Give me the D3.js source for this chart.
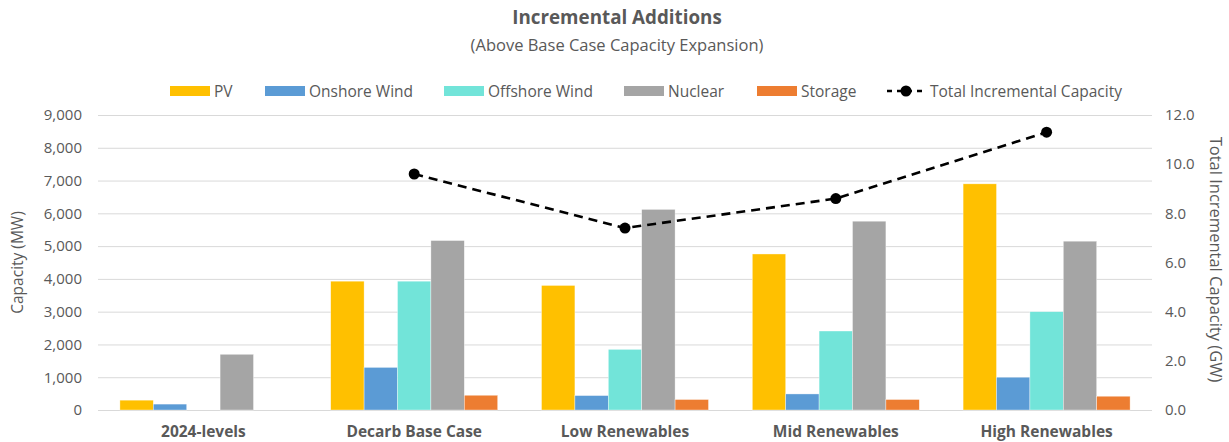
<!DOCTYPE html>
<html>
<head>
<meta charset="utf-8">
<script src="https://cdn.jsdelivr.net/npm/d3@7"></script>
<style>
  html, body { margin: 0; padding: 0; background: #fff; }
  svg { display: block; font-family: "Open Sans", "Noto Sans", sans-serif; }
</style>
</head>
<body>
<svg id="chart" width="1229" height="442"></svg>
<script>
// Scenarios on the x axis
const categories = ["2024-levels", "Decarb Base Case", "Low Renewables", "Mid Renewables", "High Renewables"];

// Capacity added per technology (MW)
const pv       = [300, 3930, 3800, 4760, 6900];
const onshore  = [180, 1300, 440, 490, 1000];
const offshore = [0, 3930, 1850, 2410, 3000];
const nuclear  = [1700, 5170, 6120, 5760, 5150];
const storage  = [0, 450, 320, 320, 420];

// Total incremental capacity (GW), secondary axis
const totalGW = [null, 9.6, 7.4, 8.6, 11.3];

const seriesNames = ["PV", "Onshore Wind", "Offshore Wind", "Nuclear", "Storage"];
const seriesValues = [pv, onshore, offshore, nuclear, storage];
const seriesColors = ["#FFC000", "#5B9BD5", "#72E4D9", "#A5A5A5", "#ED7D31"];

const leftTicks = [0, 1000, 2000, 3000, 4000, 5000, 6000, 7000, 8000, 9000];
const rightTicks = [0, 2, 4, 6, 8, 10, 12];

const svg = d3.select("#chart");
const textColor = "#595959";
const gridColor = "#D9D9D9";

const plot = { left: 98, right: 1152, top: 115, bottom: 410 };

const x = d3.scaleBand().domain(categories).range([plot.left, plot.right]).paddingInner(0).paddingOuter(0);
const xs = d3.scaleBand().domain(seriesNames).range([0, x.bandwidth()]).paddingInner(0).paddingOuter(0.656);
const y = d3.scaleLinear().domain([0, 9000]).range([plot.bottom, plot.top]);
const y2 = d3.scaleLinear().domain([0, 12]).range([plot.bottom, plot.top]);

// Title
svg.append("text").attr("x", 617).attr("y", 24).attr("text-anchor", "middle")
  .attr("font-size", 18.8).attr("font-weight", "bold").attr("fill", textColor)
  .text("Incremental Additions");
svg.append("text").attr("x", 617).attr("y", 51).attr("text-anchor", "middle")
  .attr("font-size", 16.5).attr("fill", textColor)
  .text("(Above Base Case Capacity Expansion)");

// Gridlines
svg.append("g").selectAll("line").data(leftTicks).join("line")
  .attr("x1", plot.left).attr("x2", plot.right)
  .attr("y1", d => y(d) + 0.5).attr("y2", d => y(d) + 0.5)
  .attr("stroke", gridColor).attr("stroke-width", 1);

// Left axis
const leftAxis = d3.axisLeft(y).tickValues(leftTicks).tickFormat(d3.format(",")).tickSize(0).tickPadding(16);
const gl = svg.append("g").attr("transform", `translate(${plot.left},0)`).call(leftAxis);
gl.select(".domain").remove();
gl.selectAll("text").attr("font-size", 15).attr("fill", textColor).attr("font-family", "'Open Sans', sans-serif");

// Right axis
const rightAxis = d3.axisRight(y2).tickValues(rightTicks).tickFormat(d3.format(".1f")).tickSize(0).tickPadding(13);
const gr = svg.append("g").attr("transform", `translate(${plot.right},0)`).call(rightAxis);
gr.select(".domain").remove();
gr.selectAll("text").attr("font-size", 15).attr("fill", textColor).attr("font-family", "'Open Sans', sans-serif");

// Axis titles
svg.append("text").attr("transform", `translate(23,${(plot.top + plot.bottom) / 2}) rotate(-90)`)
  .attr("text-anchor", "middle").attr("font-size", 15.5).attr("fill", textColor)
  .text("Capacity (MW)");
svg.append("text").attr("transform", `translate(1210,${(plot.top + plot.bottom) / 2 - 3}) rotate(90)`)
  .attr("text-anchor", "middle").attr("font-size", 16.5).attr("fill", textColor)
  .text("Total Incremental Capacity (GW)");

// Category labels
const gx = svg.append("g").attr("transform", `translate(0,${plot.bottom})`)
  .call(d3.axisBottom(x).tickSize(0).tickPadding(16));
gx.select(".domain").remove();
gx.selectAll("text").attr("font-size", 15.5).attr("font-weight", "bold").attr("fill", textColor)
  .attr("font-family", "'Open Sans', sans-serif");

// Bars
const barData = [];
categories.forEach((c, i) => {
  seriesNames.forEach((s, j) => {
    barData.push({ cat: c, series: s, value: seriesValues[j][i], color: seriesColors[j] });
  });
});
svg.append("g").selectAll("rect").data(barData.filter(d => d.value > 0)).join("rect")
  .attr("x", d => x(d.cat) + xs(d.series))
  .attr("y", d => y(d.value))
  .attr("width", xs.bandwidth())
  .attr("height", d => y(0) - y(d.value))
  .attr("fill", d => d.color)
  .attr("stroke", "#fff").attr("stroke-opacity", 0.6).attr("stroke-width", 0.6);

// Total line
const linePts = categories.map((c, i) => ({ cat: c, v: totalGW[i] }));
const line = d3.line()
  .defined(d => d.v !== null)
  .x(d => x(d.cat) + x.bandwidth() / 2)
  .y(d => y2(d.v));
svg.append("path").datum(linePts).attr("d", line)
  .attr("fill", "none").attr("stroke", "#000").attr("stroke-width", 2.6)
  .attr("stroke-dasharray", "9,6");
svg.append("g").selectAll("circle").data(linePts.filter(d => d.v !== null)).join("circle")
  .attr("cx", d => x(d.cat) + x.bandwidth() / 2)
  .attr("cy", d => y2(d.v))
  .attr("r", 5.5).attr("fill", "#000");

// Legend
const legendY = 91;
const legendX = [170, 265, 444, 624, 757];
const lg = svg.append("g");
seriesNames.forEach((s, j) => {
  lg.append("rect").attr("x", legendX[j]).attr("y", legendY - 5).attr("width", 40).attr("height", 10)
    .attr("fill", seriesColors[j]);
  lg.append("text").attr("x", legendX[j] + 44).attr("y", legendY + 5.5)
    .attr("font-size", 15.5).attr("fill", textColor).text(s);
});
lg.append("line").attr("x1", 886).attr("x2", 926).attr("y1", legendY).attr("y2", legendY)
  .attr("stroke", "#000").attr("stroke-width", 2.6).attr("stroke-dasharray", "5,5").attr("stroke-dashoffset", -1);
lg.append("circle").attr("cx", 906).attr("cy", legendY).attr("r", 5.5).attr("fill", "#000");
lg.append("text").attr("x", 930).attr("y", legendY + 5.5)
  .attr("font-size", 15.5).attr("fill", textColor).text("Total Incremental Capacity");
</script>
</body>
</html>
